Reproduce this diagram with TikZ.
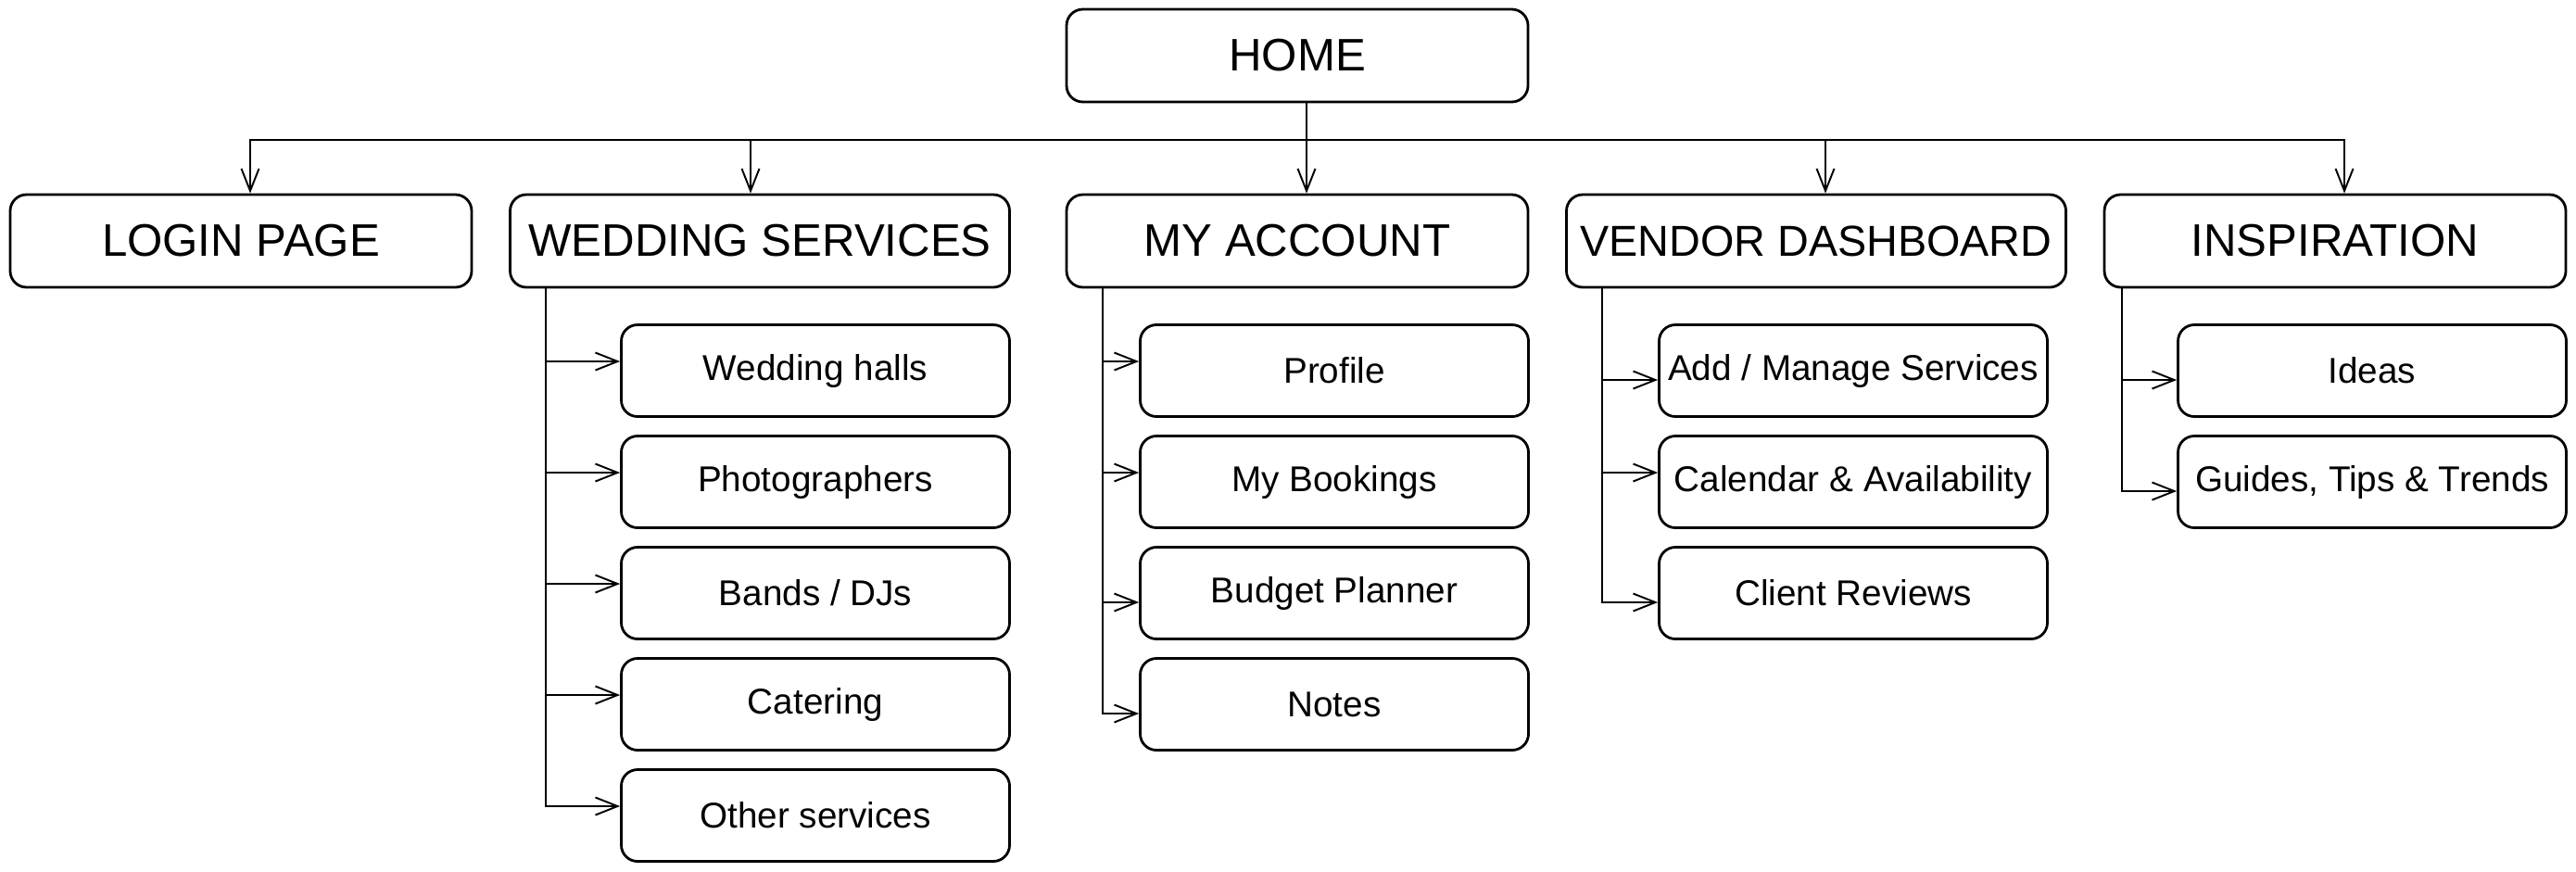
\documentclass[tikz,border=0pt]{standalone}
\usepackage{fontspec}
\setmainfont{Liberation Sans}
\usepackage{tikz}
\usetikzlibrary{positioning}
\usetikzlibrary{arrows.meta}
\tikzset{
    page/.style={
           rectangle,
           rounded corners=5pt,
           draw=black, line width=0.8pt,
           minimum width=4.98cm,
           minimum height=1cm,
           inner sep=2pt,
           text centered,
           font=\fontsize{14}{17}\selectfont
           },
    wide/.style={
              minimum width=5.39cm
              },
    item/.style={
                  page,
                  minimum width=4.19cm,
                  minimum height=0.99cm,
                  font=\fontsize{11}{13}\selectfont
                  },
    elbow/.style={
                  to path={-- ++(0,-0.4) -| (\tikztotarget)}
                  },
    branch/.style={
                  to path={([xshift=#1]\tikztostart) |- (\tikztotarget)}
                  },
    branch/.default=4mm,
}
\begin{document}
\begin{tikzpicture}[>={Straight Barb[length=2.4mm,width=1.9mm]}, node distance=1.2cm, on grid, auto]
   \useasboundingbox (0,0) rectangle (27.8,-9.4);
   \node[page] (0) at (14,-0.6) {HOME};
   \node[page] (3) [below=2cm of 0] {MY ACCOUNT};
   \node[page, wide] (2) [left=5.8cm of 3] {WEDDING SERVICES};
   \node[page] (1) [left=5.6cm of 2] {LOGIN PAGE};
   \node[page, wide, font=\fontsize{13.3}{16}\selectfont] (4) [right=5.6cm of 3] {VENDOR DASHBOARD};
   \node[page] (5) [right=5.6cm of 4] {INSPIRATION};

   % wedding services
   \node[item] (21) [below right=1.4cm and 0.6cm of 2] {Wedding halls};
   \node[item] (22) [below=of 21] {Photographers};
   \node[item] (23) [below=of 22] {Bands / DJs};
   \node[item] (24) [below=of 23] {Catering};
   \node[item] (25) [below=of 24] {Other services};
   % my account
   \node[item] (31) [below right=1.4cm and 0.4cm of 3] {Profile};
   \node[item] (32) [below=of 31] {My Bookings};
   \node[item] (33) [below=of 32] {Budget Planner};
   \node[item] (34) [below=of 33] {Notes};
   % vendor dashboard
   \node[item] (41) [below right=1.4cm and 0.4cm of 4] {Add / Manage Services};
   \node[item] (42) [below=of 41] {Calendar \& Availability};
   \node[item] (43) [below=of 42] {Client Reviews};
   % inspiration
   \node[item] (51) [below right=1.4cm and 0.4cm of 5] {Ideas};
   \node[item] (52) [below=of 51] {Guides, Tips \& Trends};

   \path[->, line width=0.55pt]
    ([xshift=1mm]0.south) edge[elbow] ([xshift=1mm]1.north)
    ([xshift=1mm]0.south) edge[elbow] ([xshift=-1mm]2.north)
    ([xshift=1mm]0.south) edge        ([xshift=1mm]3.north)
    ([xshift=1mm]0.south) edge[elbow] ([xshift=1mm]4.north)
    ([xshift=1mm]0.south) edge[elbow] ([xshift=1mm]5.north)
    (2.south west) edge[branch] ([yshift=1mm]21.west)
    (2.south west) edge[branch] ([yshift=1mm]22.west)
    (2.south west) edge[branch] ([yshift=1mm]23.west)
    (2.south west) edge[branch] ([yshift=1mm]24.west)
    (2.south west) edge[branch] ([yshift=1mm]25.west)
    (3.south west) edge[branch] ([yshift=1mm]31.west)
    (3.south west) edge[branch] ([yshift=1mm]32.west)
    (3.south west) edge[branch] ([yshift=-1mm]33.west)
    (3.south west) edge[branch] ([yshift=-1mm]34.west)
    (4.south west) edge[branch] ([yshift=-1mm]41.west)
    (4.south west) edge[branch] ([yshift=1mm]42.west)
    (4.south west) edge[branch] ([yshift=-1mm]43.west)
    (5.south west) edge[branch=2mm] ([yshift=-1mm]51.west)
    (5.south west) edge[branch=2mm] ([yshift=-1mm]52.west)
       ;
\end{tikzpicture}
\end{document}
